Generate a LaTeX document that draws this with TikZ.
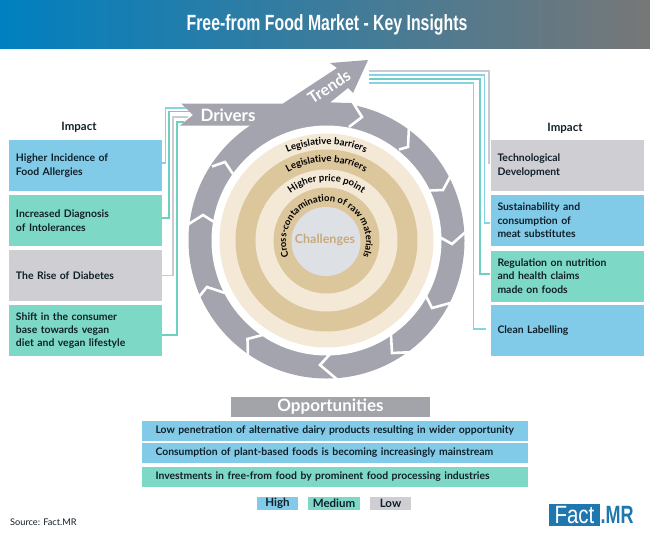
\documentclass[tikz,border=0pt]{standalone}
\usepackage{fontspec}
\setmainfont{Lato}
\newfontfamily\titlefont[FakeStretch=0.72]{Liberation Sans Bold}
\newfontfamily\logofont[FakeStretch=0.82]{Liberation Sans}
\usetikzlibrary{decorations.text,calc}
\definecolor{ringgray}{HTML}{A3A4AD}
\definecolor{bluebox}{HTML}{82CBE8}
\definecolor{tealbox}{HTML}{7ED8C6}
\definecolor{graybox}{HTML}{CECED3}
\definecolor{tanring}{HTML}{DCC69C}
\definecolor{lightring}{HTML}{F4E8D7}
\definecolor{coredisc}{HTML}{DDE1E6}
\definecolor{coretext}{HTML}{C9A97A}
\definecolor{headerblue}{HTML}{0080C0}
\definecolor{headergray}{HTML}{777777}
\definecolor{logoblue}{HTML}{1E77AF}
\definecolor{inktext}{HTML}{10202A}
\definecolor{linegray}{HTML}{C8CCD0}
\definecolor{lineblue}{HTML}{86D3E6}
\definecolor{lineteal}{HTML}{6FCFC0}
\definecolor{headbar}{HTML}{A3A3AA}
\tikzset{
 impactbox/.style={minimum width=153pt,minimum height=51pt,inner xsep=7pt,inner ysep=0pt,anchor=center,align=left,text width=139pt,text=inktext,font=\fontsize{10.4}{13.4}\selectfont\bfseries},
 opprow/.style={minimum width=386pt,minimum height=20pt,inner xsep=13.5pt,inner ysep=0pt,anchor=center,align=left,text width=359pt,text=inktext,font=\fontsize{10.4}{12}\selectfont\bfseries},
 legendbox/.style={minimum height=13pt,inner sep=0pt,anchor=center,text=inktext,font=\fontsize{11.5}{13}\selectfont\bfseries},
 notch/.style={draw=white,line width=2.6pt,line join=miter,miter limit=10},
 feeder/.style={line width=1.5pt,line join=miter},
 impacttitle/.style={text=inktext,font=\fontsize{11.5}{13}\selectfont\bfseries,inner sep=0pt},
 ringlabel/.style={decorate,decoration={text along path,text align=center,text color=black,text={#1}}}
}
\begin{document}
\begin{tikzpicture}[x=1pt,y=-1pt]
\useasboundingbox (0,0) rectangle (650,533);
\coordinate (c) at (326.5,240.5);
\coordinate (cc) at (326,241.5);
% header
\shade[left color=headerblue,right color=headergray] (0,0) rectangle (650,48);
\node[text=white,inner sep=0pt,font=\fontsize{22}{26}\titlefont] (title) at (327,24.5) {Free-from Food Market - Key Insights};
% ring
\fill[ringgray] (c) circle[radius=138pt];
\draw[notch] (409,126) -- (408,147) -- (399,149.5);
\draw[notch] (451,175) -- (443,190) -- (430,190.5);
\draw[notch] (469,229) -- (452,244) -- (436,235);
\draw[notch] (454,302) -- (432,308) -- (426,296);
\draw[notch] (416,352) -- (392,353) -- (391,335);
\draw[notch] (339,381) -- (320,365) -- (331,353);
\draw[notch] (248,358) -- (247.5,339) -- (266,334);
\draw[notch] (198,298) -- (207,287) -- (225,293);
\draw[notch] (184,227) -- (203,215) -- (219,225);
% banner
\fill[ringgray] (181,103.5) -- (193,115) -- (180,125.5) -- (350,125.5) -- (362,117) -- (353,103) -- (330,102.5) -- (348,88) -- (353,93) -- (368,60) -- (330,63) -- (337,68) -- (283,103.5) -- cycle;
\draw[notch] (212,166.5) -- (225,162) -- (233,174);
\draw[notch] (352,101) -- (362,117) -- (349,127);
% discs
\fill[white] (c) circle[radius=115pt];
\fill[lightring] (c) circle[radius=107pt];
\fill[tanring] (c) circle[radius=91pt];
\fill[lightring] (c) circle[radius=71pt];
\fill[tanring] (c) circle[radius=53pt];
\fill[coredisc] (cc) circle[radius=34.5pt];
\node[text=white,inner sep=0pt,font=\fontsize{17}{20}\selectfont\bfseries] (drivers) at (228,115) {Drivers};
\node[text=white,inner sep=0pt,rotate=33,font=\fontsize{16}{19}\selectfont\bfseries] (trends) at (329,87) {Trends};
\node[text=coretext,inner sep=0pt,font=\fontsize{12.5}{15}\selectfont\bfseries] (challenges) at (325,240) {Challenges};
\path[ringlabel={|\fontsize{9.6}{11}\selectfont\bfseries|Legislative barriers}] ($(c)+(132:96pt)$) arc (132:48:96pt);
\path[ringlabel={|\fontsize{9.6}{11}\selectfont\bfseries|Legislative barriers}] ($(c)+(136:78.5pt)$) arc (136:44:78.5pt);
\path[ringlabel={|\fontsize{9.6}{11}\selectfont\bfseries|Higher price point}] ($(c)+(142:59.5pt)$) arc (142:38:59.5pt);
\path[ringlabel={|\fontsize{9.4}{11}\selectfont\bfseries|Cross-contamination of raw materials}] ($(cc)+(210:40pt)$) arc (210:-30:40pt);
% left
\node[impacttitle] (impL) at (79,127.5) {Impact};
\node[impactbox,fill=bluebox] (L1) at (85.5,165.5) {Higher Incidence of\\Food Allergies};
\node[impactbox,fill=tealbox] (L2) at (85.5,220.5) {Increased Diagnosis\\of Intolerances};
\node[impactbox,fill=graybox] (L3) at (85.5,275.5) {The Rise of Diabetes};
\node[impactbox,fill=tealbox] (L4) at (85.5,330.5) {Shift in the consumer\\base towards vegan\\diet and vegan lifestyle};
\coordinate (d1) at (186,108);
\coordinate (d2) at (190,111.5);
\coordinate (d3) at (188,117);
\coordinate (d4) at (184,122);
\draw[feeder,lineblue] ([yshift=2.5pt]L1.east) -- ++(3.5,0) |- (d1);
\draw[feeder,lineteal] ([yshift=2.5pt]L2.east) -- ++(7,0) |- (d2);
\draw[feeder,linegray] (L3.east) -- ++(11,0) |- (d3);
\draw[feeder,lineteal] ([yshift=-4.5pt]L4.east) -- ++(15,0) |- (d4);
% right
\node[impacttitle] (impR) at (565,128) {Impact};
\node[impactbox,fill=graybox] (R1) at (567,165.5) {Technological\\Development};
\node[impactbox,fill=bluebox] (R2) at (567,220.5) {Sustainability and\\consumption of\\meat substitutes};
\node[impactbox,fill=tealbox] (R3) at (567,276) {Regulation on nutrition\\and health claims\\made on foods};
\node[impactbox,fill=bluebox] (R4) at (567,330.5) {Clean Labelling};
\coordinate (t1) at (369,71);
\coordinate (t2) at (369,75);
\coordinate (t3) at (369,79);
\coordinate (t4) at (369,83);
\draw[feeder,linegray] ([yshift=2.5pt]R1.west) -- ++(-1.5,0) |- (t1);
\draw[feeder,lineblue] ([yshift=-2.5pt]R2.west) -- ++(-6,0) |- (t2);
\draw[feeder,lineteal] ([yshift=2pt]R3.west) -- ++(-10.5,0) |- (t3);
\draw[feeder,lineblue] ([xshift=-4pt,yshift=1.5pt]R4.west) -- ++(-13,0) |- (t4);
% opportunities
\node[fill=headbar,text=white,minimum width=199pt,minimum height=20pt,inner sep=0pt,font=\fontsize{17}{19}\selectfont\bfseries] (opp) at (330.5,406.5) {Opportunities};
\node[opprow,fill=bluebox] (O1) at (335,431) {Low penetration of alternative dairy products resulting in wider opportunity};
\node[opprow,fill=bluebox] (O2) at (335,453) {Consumption of plant-based foods is becoming increasingly mainstream};
\node[opprow,fill=tealbox] (O3) at (335,476.5) {Investments in free-from food by prominent food processing industries};
% legend
\node[legendbox,fill=bluebox,minimum width=41pt] (lh) at (277.5,503.5) {High};
\node[legendbox,fill=tealbox,minimum width=52pt] (lm) at (334,503.5) {Medium};
\node[legendbox,fill=graybox,minimum width=41pt] (ll) at (390.5,503.5) {Low};
% source and logo
\node[anchor=west,inner sep=0pt,text=inktext,font=\fontsize{9.2}{11}\selectfont] (src) at (10,522) {Source: Fact.MR};
\node[fill=logoblue,text=white,minimum width=51pt,minimum height=22pt,inner sep=0pt,font=\fontsize{25}{26}\logofont] (logoa) at (574.5,515) {Fact};
\node[anchor=west,inner sep=0pt,text=logoblue,font=\fontsize{25}{26}\titlefont] (logob) at (600.5,515) {.MR};
\end{tikzpicture}
\end{document}
